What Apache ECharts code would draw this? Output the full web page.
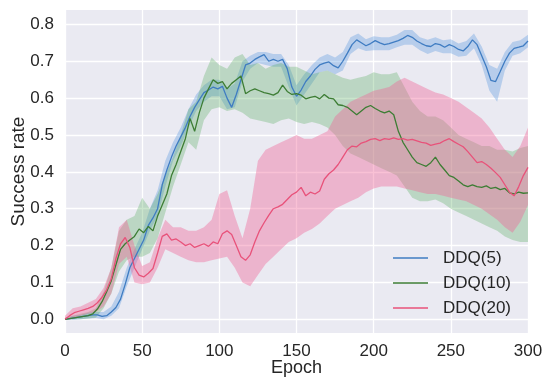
<!DOCTYPE html>
<html>
<head>
<meta charset="utf-8">
<script src="https://cdn.jsdelivr.net/npm/echarts@6/dist/echarts.min.js"></script>
<style>
html,body{margin:0;padding:0;background:#fff;}
#c{width:543px;height:379px;}
</style>
</head>
<body>
<div id="c"></div>
<script>
// ---- data ----
const seriesNames = ['DDQ(5)', 'DDQ(10)', 'DDQ(20)'];
const xTicks = [0, 50, 100, 150, 200, 250, 300];
const yTicks = [0.0, 0.1, 0.2, 0.3, 0.4, 0.5, 0.6, 0.7, 0.8];

// epochs for mean curves (every 3 epochs)
const meanEpochs = [0,3,6,9,12,15,18,21,24,27,30,33,36,39,42,45,48,51,54,57,60,63,66,69,72,75,78,81,84,87,90,93,96,99,102,105,108,111,114,117,120,123,126,129,132,135,138,141,144,147,150,153,156,159,162,165,168,171,174,177,180,183,186,189,192,195,198,201,204,207,210,213,216,219,222,225,228,231,234,237,240,243,246,249,252,255,258,261,264,267,270,273,276,279,282,285,288,291,294,297,300];

const ddq5Mean = [0.000,0.002,0.004,0.006,0.008,0.010,0.012,0.012,0.008,0.010,0.020,0.032,0.055,0.095,0.140,0.165,0.190,0.215,0.255,0.275,0.300,0.365,0.405,0.440,0.470,0.495,0.520,0.550,0.575,0.595,0.615,0.622,0.630,0.625,0.632,0.600,0.575,0.610,0.650,0.690,0.695,0.705,0.712,0.718,0.700,0.705,0.700,0.705,0.680,0.630,0.605,0.622,0.645,0.660,0.678,0.690,0.695,0.698,0.688,0.682,0.700,0.722,0.745,0.758,0.750,0.742,0.748,0.756,0.750,0.745,0.748,0.752,0.756,0.762,0.770,0.765,0.755,0.748,0.742,0.740,0.748,0.745,0.738,0.745,0.740,0.732,0.728,0.740,0.758,0.745,0.715,0.685,0.648,0.645,0.672,0.700,0.722,0.735,0.738,0.742,0.755];

const ddq10Mean = [0.000,0.002,0.004,0.006,0.008,0.010,0.015,0.028,0.048,0.075,0.105,0.148,0.190,0.205,0.215,0.225,0.245,0.235,0.252,0.240,0.280,0.310,0.340,0.390,0.420,0.455,0.490,0.545,0.510,0.560,0.600,0.625,0.650,0.640,0.645,0.625,0.640,0.650,0.660,0.612,0.620,0.625,0.620,0.615,0.612,0.608,0.615,0.635,0.618,0.610,0.612,0.608,0.598,0.602,0.605,0.598,0.610,0.600,0.598,0.582,0.580,0.575,0.565,0.555,0.565,0.575,0.580,0.572,0.565,0.560,0.565,0.555,0.510,0.480,0.460,0.440,0.425,0.420,0.415,0.425,0.440,0.420,0.405,0.390,0.385,0.375,0.365,0.360,0.365,0.360,0.358,0.362,0.355,0.358,0.352,0.355,0.343,0.340,0.345,0.342,0.343];

const ddq20Mean = [0.000,0.010,0.018,0.022,0.026,0.030,0.035,0.045,0.060,0.080,0.110,0.165,0.205,0.222,0.195,0.140,0.120,0.115,0.125,0.138,0.180,0.225,0.232,0.215,0.218,0.210,0.200,0.205,0.195,0.200,0.205,0.198,0.210,0.205,0.232,0.240,0.230,0.200,0.170,0.160,0.175,0.210,0.240,0.262,0.282,0.300,0.305,0.312,0.325,0.338,0.345,0.358,0.335,0.345,0.340,0.348,0.380,0.395,0.405,0.420,0.440,0.460,0.470,0.468,0.478,0.482,0.488,0.490,0.485,0.490,0.488,0.492,0.488,0.490,0.486,0.488,0.484,0.480,0.478,0.472,0.475,0.478,0.485,0.490,0.482,0.475,0.468,0.455,0.440,0.425,0.428,0.420,0.410,0.398,0.385,0.365,0.345,0.335,0.360,0.390,0.412];

// epochs for confidence bands (every 5 epochs)
const bandEpochs = [0,5,10,15,20,25,30,35,40,45,50,55,60,65,70,75,80,85,90,95,100,105,110,115,120,125,130,135,140,145,150,155,160,165,170,175,180,185,190,195,200,205,210,215,220,225,230,235,240,245,250,255,260,265,270,275,280,285,290,295,300];

const ddq5Lo = [0,-0.002,0,0.002,0.004,0.0,0.01,0.03,0.09,0.14,0.19,0.24,0.28,0.36,0.43,0.47,0.52,0.565,0.59,0.605,0.605,0.57,0.575,0.645,0.68,0.695,0.69,0.685,0.685,0.63,0.58,0.61,0.64,0.67,0.675,0.665,0.675,0.72,0.735,0.728,0.73,0.73,0.73,0.738,0.745,0.745,0.73,0.72,0.728,0.722,0.722,0.712,0.715,0.735,0.69,0.62,0.59,0.675,0.715,0.722,0.738];
const ddq5Hi = [0,0.01,0.012,0.018,0.02,0.02,0.035,0.075,0.14,0.19,0.235,0.30,0.35,0.43,0.48,0.52,0.57,0.61,0.635,0.65,0.65,0.625,0.64,0.70,0.715,0.725,0.725,0.72,0.72,0.69,0.635,0.665,0.69,0.71,0.72,0.71,0.725,0.765,0.775,0.76,0.768,0.765,0.765,0.772,0.785,0.785,0.765,0.758,0.765,0.757,0.76,0.748,0.755,0.775,0.74,0.69,0.68,0.725,0.752,0.757,0.772];

const ddq10Lo = [0,0.0,0.0,0.002,0.005,0.03,0.07,0.13,0.16,0.17,0.17,0.18,0.22,0.29,0.36,0.42,0.48,0.46,0.54,0.57,0.575,0.565,0.57,0.56,0.545,0.54,0.535,0.53,0.54,0.545,0.535,0.53,0.535,0.53,0.52,0.50,0.47,0.45,0.44,0.43,0.42,0.41,0.40,0.39,0.36,0.33,0.32,0.32,0.325,0.315,0.30,0.29,0.28,0.27,0.26,0.25,0.24,0.225,0.215,0.21,0.21];
const ddq10Hi = [0.005,0.01,0.015,0.02,0.03,0.075,0.14,0.24,0.27,0.28,0.33,0.30,0.34,0.39,0.44,0.50,0.57,0.59,0.66,0.71,0.69,0.68,0.71,0.72,0.69,0.695,0.68,0.69,0.695,0.685,0.685,0.675,0.665,0.67,0.675,0.665,0.655,0.65,0.655,0.66,0.67,0.665,0.665,0.67,0.63,0.59,0.565,0.55,0.55,0.54,0.52,0.50,0.49,0.48,0.47,0.47,0.46,0.46,0.455,0.465,0.47];

const ddq20Lo = [0,0.005,0.01,0.015,0.02,0.035,0.07,0.15,0.17,0.10,0.095,0.10,0.14,0.19,0.18,0.17,0.16,0.155,0.155,0.16,0.165,0.17,0.14,0.10,0.09,0.12,0.15,0.17,0.19,0.21,0.22,0.235,0.245,0.26,0.28,0.30,0.31,0.32,0.33,0.345,0.355,0.36,0.36,0.36,0.355,0.35,0.345,0.34,0.34,0.335,0.33,0.325,0.32,0.31,0.30,0.285,0.27,0.25,0.235,0.265,0.31];
const ddq20Hi = [0.01,0.03,0.035,0.045,0.055,0.085,0.14,0.25,0.27,0.20,0.145,0.155,0.22,0.27,0.25,0.25,0.24,0.24,0.25,0.27,0.34,0.35,0.28,0.22,0.30,0.43,0.46,0.47,0.48,0.49,0.50,0.49,0.49,0.50,0.51,0.55,0.57,0.59,0.60,0.61,0.62,0.625,0.63,0.645,0.655,0.645,0.635,0.625,0.615,0.61,0.60,0.59,0.575,0.56,0.545,0.52,0.49,0.46,0.44,0.47,0.52];

// ---- styles ----
const lineColors = ['#3f7cc2', '#3d7d34', '#e8527a'];
const bandColors = ['rgba(76,144,222,0.32)', 'rgba(80,170,85,0.30)', 'rgba(240,100,150,0.40)'];
const FONT = "'Liberation Sans', Arial, sans-serif";

function pairs(xs, ys) { return xs.map((x, i) => [x, ys[i]]); }
function bandRows(xs, lo, hi) { return xs.map((x, i) => [x, lo[i], hi[i]]); }

function bandSeries(name, rows, color) {
  return {
    type: 'custom',
    name: name + ' band',
    data: rows,
    encode: { x: 0, y: [1, 2] },
    clip: true,
    silent: true,
    renderItem: function (params, api) {
      if (params.dataIndex !== 0) return null;
      const top = [], bot = [];
      for (let i = 0; i < rows.length; i++) {
        top.push(api.coord([rows[i][0], rows[i][2]]));
        bot.push(api.coord([rows[i][0], rows[i][1]]));
      }
      const pts = top.concat(bot.reverse());
      return {
        type: 'polygon',
        shape: { points: pts },
        style: { fill: color, stroke: null }
      };
    }
  };
}

function lineSeries(name, ys, color) {
  return {
    type: 'line',
    name: name,
    data: pairs(meanEpochs, ys),
    showSymbol: false,
    symbol: 'none',
    lineStyle: { color: color, width: 1.3 },
    itemStyle: { color: color }
  };
}

const means = [ddq5Mean, ddq10Mean, ddq20Mean];
const bands = [bandRows(bandEpochs, ddq5Lo, ddq5Hi), bandRows(bandEpochs, ddq10Lo, ddq10Hi), bandRows(bandEpochs, ddq20Lo, ddq20Hi)];

const series = [];
for (let k = 0; k < 3; k++) {
  series.push(bandSeries(seriesNames[k], bands[k], bandColors[k]));
  series.push(lineSeries(seriesNames[k], means[k], lineColors[k]));
}

const chart = echarts.init(document.getElementById('c'), null, { renderer: 'canvas' });
chart.setOption({
  animation: false,
  textStyle: { fontFamily: FONT },
  grid: {
    left: 65, right: 15, top: 10, bottom: 46,
    containLabel: false,
    outerBoundsMode: 'none',
    show: true, backgroundColor: '#EAEAF2', borderWidth: 0
  },
  legend: {
    data: seriesNames,
    orient: 'vertical',
    left: 393, top: 248,
    padding: 0,
    icon: 'rect',
    itemWidth: 35, itemHeight: 1.6, itemGap: 5,
    textStyle: { fontFamily: FONT, fontSize: 17, color: '#262626', lineHeight: 20, padding: [0, 0, 0, 10] }
  },
  xAxis: {
    type: 'value', min: 0, max: 300, interval: 50,
    axisLine: { show: false }, axisTick: { show: false },
    axisLabel: { fontFamily: FONT, fontSize: 17, color: '#262626', margin: 10,
      customValues: xTicks, formatter: v => String(v) },
    splitLine: { show: true, lineStyle: { color: '#ffffff', width: 1.3 } },
    name: 'Epoch', nameLocation: 'middle', nameGap: 26, nameMoveOverlap: false,
    nameTextStyle: { fontFamily: FONT, fontSize: 18, color: '#262626' }
  },
  yAxis: {
    type: 'value', min: -0.037, max: 0.839,
    axisLine: { show: false },
    axisTick: { show: false, customValues: yTicks },
    axisLabel: { fontFamily: FONT, fontSize: 17, color: '#262626', margin: 11,
      customValues: yTicks, formatter: v => v.toFixed(1) },
    splitLine: { show: true, lineStyle: { color: '#ffffff', width: 1.3 } },
    name: 'Success rate', nameLocation: 'middle', nameGap: 37, nameRotate: 90, nameMoveOverlap: false,
    nameTextStyle: { fontFamily: FONT, fontSize: 19, color: '#262626' }
  },
  series: series
});
</script>
</body>
</html>
